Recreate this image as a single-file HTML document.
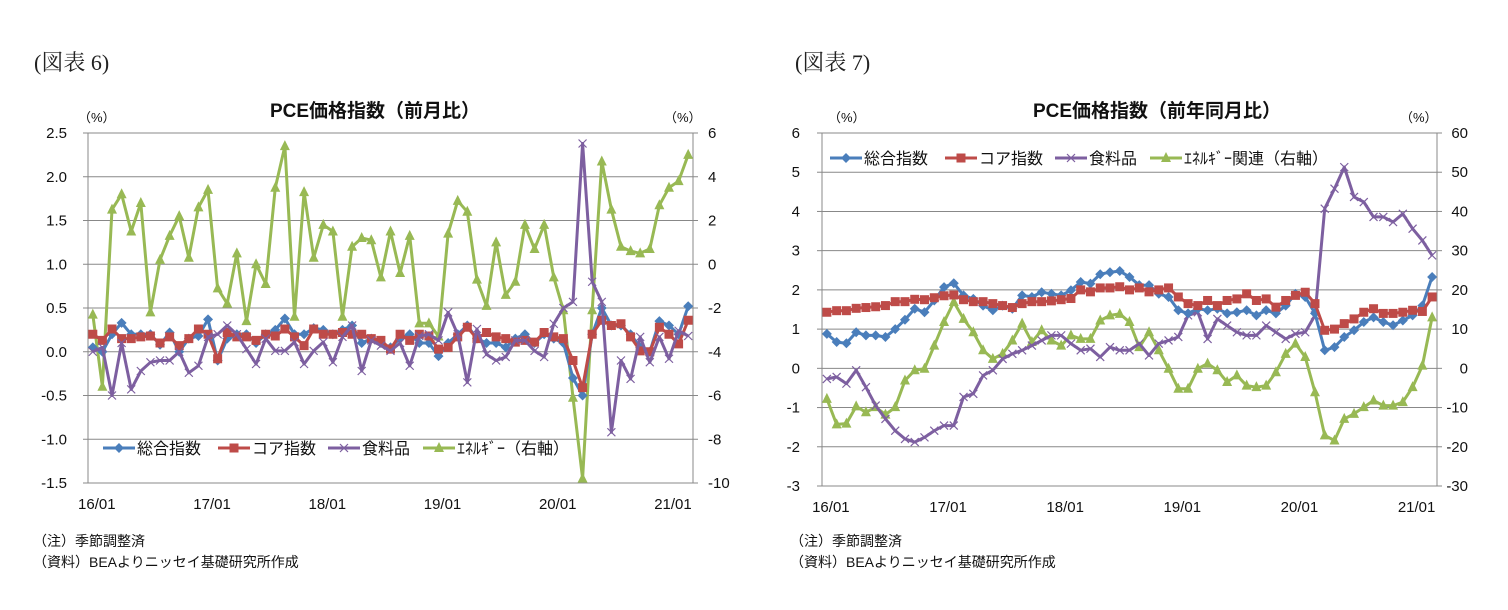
<!DOCTYPE html>
<html><head><meta charset="utf-8">
<style>
html,body{margin:0;padding:0;background:#fff;}
body{width:1508px;height:605px;overflow:hidden;font-family:"Liberation Sans","Noto Sans CJK JP",sans-serif;}
svg text{font-family:"Liberation Sans","Noto Sans CJK JP",sans-serif;}
</style></head>
<body>
<svg id="root" width="1508" height="605" xmlns="http://www.w3.org/2000/svg">
<text x="34" y="70" font-size="22" fill="#222" style="font-family:'Liberation Serif','Noto Serif CJK SC',serif">(図表 6)</text>
<text x="795" y="70" font-size="22" fill="#222" style="font-family:'Liberation Serif','Noto Serif CJK SC',serif">(図表 7)</text>
<text x="375" y="117" font-size="19" font-weight="bold" text-anchor="middle" fill="#111">PCE価格指数（前月比）</text>
<text x="1157" y="117" font-size="19" font-weight="bold" text-anchor="middle" fill="#111">PCE価格指数（前年同月比）</text>
<text x="78" y="122" font-size="13" fill="#111">（%）</text>
<text x="664" y="122" font-size="13" fill="#111">（%）</text>
<text x="828" y="122" font-size="13" fill="#111">（%）</text>
<text x="1400" y="122" font-size="13" fill="#111">（%）</text>
<text x="33" y="546" font-size="14" fill="#111">（注）季節調整済</text>
<text x="33" y="567" font-size="14" fill="#111">（資料）BEAよりニッセイ基礎研究所作成</text>
<text x="790" y="546" font-size="14" fill="#111">（注）季節調整済</text>
<text x="790" y="567" font-size="14" fill="#111">（資料）BEAよりニッセイ基礎研究所作成</text>
<g id="c1"></g><g id="c2"></g>
</svg>
<script>
// ---- Chart 1 data (month-on-month) ----
const c1Total=[0.05,0.0,0.2,0.33,0.2,0.2,0.2,0.08,0.22,0.0,0.15,0.18,0.37,-0.1,0.15,0.2,0.2,0.1,0.2,0.25,0.38,0.2,0.2,0.27,0.25,0.2,0.25,0.3,0.1,0.15,0.1,0.05,0.15,0.2,0.1,0.1,-0.05,0.1,0.2,0.3,0.15,0.1,0.1,0.05,0.15,0.2,0.1,0.2,0.15,0.1,-0.3,-0.5,0.2,0.5,0.3,0.3,0.2,0.05,0.0,0.35,0.3,0.2,0.52];
const c1Core=[0.2,0.13,0.26,0.15,0.15,0.17,0.18,0.1,0.17,0.07,0.15,0.26,0.2,-0.08,0.22,0.17,0.17,0.13,0.2,0.18,0.26,0.17,0.07,0.26,0.2,0.2,0.22,0.2,0.2,0.15,0.13,0.03,0.2,0.13,0.2,0.18,0.03,0.05,0.17,0.28,0.15,0.22,0.17,0.15,0.11,0.13,0.11,0.22,0.17,0.15,-0.1,-0.41,0.2,0.36,0.3,0.32,0.17,0.01,0.0,0.28,0.2,0.09,0.36];
const c1Food=[0.0,0.05,-0.5,0.1,-0.43,-0.22,-0.12,-0.1,-0.1,0.0,-0.24,-0.16,0.17,0.2,0.3,0.2,0.03,-0.14,0.15,0.01,0.01,0.11,-0.14,0.01,0.11,-0.12,0.17,0.3,-0.22,0.13,0.07,0.01,0.1,-0.16,0.18,0.2,0.13,0.45,0.2,-0.35,0.26,-0.03,-0.1,-0.06,0.13,0.13,0.01,-0.06,0.32,0.5,0.57,2.38,0.8,0.57,-0.92,-0.1,-0.31,0.17,-0.12,0.17,-0.08,0.24,0.18];
const c1Energy=[-2.3,-5.6,2.5,3.2,1.5,2.8,-2.2,0.2,1.3,2.2,0.3,2.6,3.4,-1.1,-1.8,0.5,-2.6,0.0,-0.9,3.5,5.4,-2.4,3.3,0.3,1.8,1.5,-2.4,0.8,1.2,1.1,-0.6,1.5,-0.4,1.3,-2.7,-2.7,-3.3,1.4,2.9,2.4,-0.7,-1.9,1.0,-1.4,-0.8,1.8,0.7,1.8,-0.6,-2.1,-6.1,-9.8,-2.1,4.7,2.5,0.8,0.6,0.5,0.7,2.7,3.5,3.8,5.0];
const c1LeftTicks=["2.5","2.0","1.5","1.0","0.5","0.0","-0.5","-1.0","-1.5"];
const c1RightTicks=["6","4","2","0","-2","-4","-6","-8","-10"];
// ---- Chart 2 data (year-on-year) ----
const c2Total=[0.88,0.67,0.64,0.92,0.84,0.84,0.8,1.0,1.24,1.52,1.43,1.73,2.07,2.17,1.86,1.77,1.6,1.48,1.6,1.52,1.86,1.82,1.94,1.9,1.86,1.99,2.2,2.16,2.4,2.45,2.48,2.33,2.12,2.12,1.9,1.82,1.48,1.4,1.52,1.48,1.52,1.4,1.43,1.48,1.35,1.48,1.4,1.6,1.9,1.82,1.4,0.46,0.54,0.8,0.97,1.18,1.3,1.18,1.1,1.22,1.35,1.6,2.33];
const c2Core=[1.43,1.47,1.47,1.53,1.55,1.57,1.6,1.7,1.7,1.76,1.75,1.8,1.85,1.87,1.75,1.7,1.7,1.65,1.6,1.55,1.65,1.7,1.7,1.72,1.75,1.78,2.0,1.95,2.05,2.05,2.08,2.0,2.05,1.95,2.0,2.05,1.82,1.65,1.6,1.73,1.6,1.73,1.77,1.9,1.73,1.77,1.56,1.73,1.86,1.94,1.65,0.97,1.0,1.14,1.26,1.43,1.52,1.4,1.4,1.43,1.48,1.45,1.82];
const c2Food=[-0.27,-0.22,-0.39,-0.05,-0.48,-0.95,-1.29,-1.59,-1.8,-1.88,-1.76,-1.59,-1.46,-1.46,-0.73,-0.65,-0.18,-0.05,0.24,0.37,0.46,0.58,0.71,0.84,0.84,0.63,0.46,0.5,0.29,0.54,0.46,0.46,0.63,0.33,0.63,0.71,0.8,1.35,1.43,0.75,1.26,1.09,0.92,0.84,0.84,1.09,0.92,0.75,0.88,0.92,1.35,4.07,4.58,5.13,4.37,4.24,3.86,3.86,3.73,3.94,3.56,3.26,2.88];
const c2Energy=[-7.8,-14.3,-14.1,-9.7,-11.2,-9.9,-11.8,-9.9,-3.1,-0.5,-0.1,5.8,11.8,16.9,12.6,9.2,4.6,2.4,3.7,7.1,11.4,6.7,9.7,7.1,5.8,8.4,7.5,7.5,12.2,13.5,13.9,11.8,5.4,9.2,4.6,-0.1,-5.2,-5.2,-0.1,1.2,-0.5,-3.5,-1.8,-4.4,-4.8,-4.4,-1.0,3.7,6.3,2.9,-6.1,-17.1,-18.4,-12.9,-11.6,-9.9,-8.2,-9.5,-9.5,-8.6,-4.8,0.7,13.0];
const c2LeftTicks=["6","5","4","3","2","1","0","-1","-2","-3"];
const c2RightTicks=["60","50","40","30","20","10","0","-10","-20","-30"];
const xLabels=["16/01","17/01","18/01","19/01","20/01","21/01"];
const seriesNames1=["総合指数","コア指数","食料品","ｴﾈﾙｷﾞｰ（右軸）"];
const seriesNames2=["総合指数","コア指数","食料品","ｴﾈﾙｷﾞｰ関連（右軸）"];

const NS="http://www.w3.org/2000/svg";
const COLORS=["#4a7ebb","#be4b48","#7d5fa0","#98b954"];
function mk(parent,tag,attrs){const e=document.createElementNS(NS,tag);for(const k in attrs)e.setAttribute(k,attrs[k]);parent.appendChild(e);return e;}
function marker(g,kind,x,y,color){
  let e;
  if(kind===0){e=mk(g,'path',{d:`M${x} ${y-5}L${x+5} ${y}L${x} ${y+5}L${x-5} ${y}Z`,fill:color});}
  else if(kind===1){e=mk(g,'rect',{x:x-4.5,y:y-4.5,width:9,height:9,fill:color});}
  else if(kind===2){e=mk(g,'path',{d:`M${x-4} ${y-4}L${x+4} ${y+4}M${x-4} ${y+4}L${x+4} ${y-4}`,stroke:color,'stroke-width':1.2,fill:'none'});}
  else {e=mk(g,'path',{d:`M${x} ${y-6}L${x+5} ${y+4}L${x-5} ${y+4}Z`,fill:color});}
  return e;
}
function drawChart(root,cfg){
  const {L,R,T,B,lMin,lMax,rMin,rMax,leftTicks,rightTicks,series,names,legend,leftAxisX,rightAxisLine,prefix}=cfg;
  const n=series[0].length;
  const step=(R-L)/n;
  const xs=i=>L+step*(i+0.5);
  const yl=v=>T+(lMax-v)/(lMax-lMin)*(B-T);
  const yr=v=>T+(rMax-v)/(rMax-rMin)*(B-T);
  const grid=mk(root,'g',{});
  
  
  leftTicks.forEach((t,i)=>{
    const v=lMax-i*(lMax-lMin)/(leftTicks.length-1);
    const y=yl(v);
    mk(grid,'line',{x1:L,x2:R,y1:y,y2:y,stroke:'#888','stroke-width':1});
    const lt=mk(root,'text',{x:cfg.lLabX,y:y+5,'font-size':15,'text-anchor':'end',fill:'#111'});
    lt.textContent=t;
    
    
    mk(grid,'line',{x1:L-5,x2:L,y1:y,y2:y,stroke:'#888'});
  });
  rightTicks.forEach((t,i)=>{
    const v=rMax-i*(rMax-rMin)/(rightTicks.length-1);
    const y=yr(v);
    const rt=mk(root,'text',{x:cfg.rLabX,y:y+5,'font-size':15,'text-anchor':cfg.rAnchor,fill:'#111'});
    rt.textContent=t;
    
    
    mk(grid,'line',{x1:R,x2:R+5,y1:y,y2:y,stroke:'#888'});
  });
  mk(grid,'line',{x1:L,x2:L,y1:T,y2:B,stroke:'#888'});
  mk(grid,'line',{x1:R,x2:R,y1:T,y2:B,stroke:'#888'});
  xLabels.forEach((t,k)=>{
    const x=xs(k*12);
    const xt=mk(root,'text',{x:x+4,y:B+26,'font-size':15,'text-anchor':'middle',fill:'#111'});
    xt.textContent=t;
    
    
  });
  const order=cfg.order;
  order.forEach(s=>{
    const data=series[s];
    const yf=s===3?yr:yl;
    const g=mk(root,'g',{});
    
    
    const pts=data.map((v,i)=>xs(i).toFixed(1)+','+yf(v).toFixed(1)).join(' ');
    mk(g,'polyline',{points:pts,fill:'none',stroke:COLORS[s],'stroke-width':3,'stroke-linejoin':'round'});
    data.forEach((v,i)=>{
      const m=marker(g,s,xs(i),yf(v),COLORS[s]);
      
      
    });
  });
  const lg=mk(root,'g',{});
  
  
  let x=legend.x;
  names.forEach((nm,s)=>{
    const eg=mk(lg,'g',{});
    
    
    mk(eg,'line',{x1:x,x2:x+32,y1:legend.y,y2:legend.y,stroke:COLORS[s],'stroke-width':3});
    marker(eg,s,x+16,legend.y,COLORS[s]);
    const t=mk(eg,'text',{x:x+34,y:legend.y+6,'font-size':16,fill:'#111'});
    t.textContent=nm;
    x+=legend.w[s];
  });
}
drawChart(document.getElementById('c1'),{L:88,R:693,T:133,B:483,lMin:-1.5,lMax:2.5,rMin:-10,rMax:6,
  leftTicks:c1LeftTicks,rightTicks:c1RightTicks,series:[c1Total,c1Core,c1Food,c1Energy],names:seriesNames1,
  lLabX:67,rLabX:708,rAnchor:'start',order:[3,0,1,2],legend:{x:103,y:448,w:114,w:[115,110,95,0]},prefix:'chart1'});
drawChart(document.getElementById('c2'),{L:822,R:1437,T:133,B:486,lMin:-3,lMax:6,rMin:-30,rMax:60,
  leftTicks:c2LeftTicks,rightTicks:c2RightTicks,series:[c2Total,c2Core,c2Food,c2Energy],names:seriesNames2,
  lLabX:800,rLabX:1468,rAnchor:'end',order:[3,2,0,1],legend:{x:830,y:158,w:[115,110,95,0]},prefix:'chart2'});
</script>
</body></html>
